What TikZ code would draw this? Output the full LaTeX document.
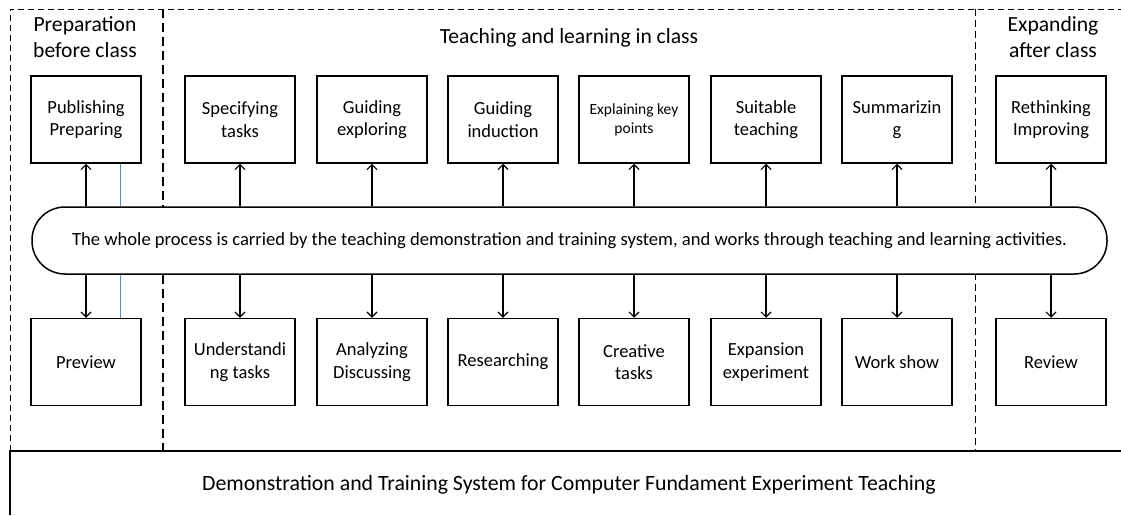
\documentclass[tikz,border=0pt]{standalone}
\usepackage{fontspec}
\setmainfont{Carlito}
\usetikzlibrary{arrows.meta}
\definecolor{linkblue}{RGB}{80,140,205}
\begin{document}
\begin{tikzpicture}[x=1pt,y=-1pt,
  box/.style={draw, line width=1.5pt, minimum width=110pt, minimum height=87pt,
    align=center, inner sep=2pt, font=\fontsize{18.5}{22.5}\selectfont},
  smallbox/.style={box, font=\fontsize{15.5}{19}\selectfont},
  pillbox/.style={draw, fill=white, line width=1.5pt, rounded corners=33pt, minimum width=1075pt,
    minimum height=67pt, inner sep=0pt, font=\fontsize{18.6}{22}\selectfont},
  head/.style={align=center, inner sep=0pt, font=\fontsize{21.6}{26}\selectfont},
  arr/.style={line width=1.2pt, -{Straight Barb[length=5pt,width=10pt,line width=1.1pt]}},
  linkline/.style={linkblue, line width=1pt},
  border/.style={line width=1pt, dash pattern=on 6pt off 4pt},
  zone/.style={line width=1pt, dash pattern=on 7pt off 4pt},
  mainzone/.style={line width=2pt, dash pattern=on 9pt off 5pt}]
\useasboundingbox (0,0) rectangle (1121,515);

% frame and zone separators
\draw[border] (10,451) -- (10,9) -- (1121,9);
\draw[mainzone] (163,9) -- (163,451);
\draw[zone] (975,9) -- (975,451);
\draw[line width=1.3pt] (10,515) -- (10,451) -- (1121,451);

% zone titles
\node[head] (h1) at (85,37) {Preparation\\before class};
\node[head] (h2) at (569,38) {Teaching and learning in class};
\node[head] (h3) at (1053,37) {Expanding\\after class};

% central carrier
\node[pillbox] (pill) at (569.5,240.5) {The whole process is carried by the teaching demonstration and training system, and works through teaching and learning activities.};

% upper activities
\node[box] (t1) at (86,119.5) {Publishing\\Preparing};
\node[box] (t2) at (240,119.5) {Specifying\\tasks};
\node[box] (t3) at (372,119.5) {Guiding\\exploring};
\node[box] (t4) at (503,119.5) {Guiding\\induction};
\node[smallbox] (t5) at (634,119.5) {Explaining key\\points};
\node[box] (t6) at (766,119.5) {Suitable\\teaching};
\node[box] (t7) at (897,119.5) {Summarizin\\g};
\node[box] (t8) at (1051,119.5) {Rethinking\\Improving};

% lower activities
\node[box] (b1) at (86,362) {Preview};
\node[box] (b2) at (240,362) {Understandi\\ng tasks};
\node[box] (b3) at (372,362) {Analyzing\\Discussing};
\node[box] (b4) at (503,362) {Researching};
\node[box] (b5) at (634,362) {Creative\\tasks};
\node[box] (b6) at (766,362) {Expansion\\experiment};
\node[box] (b7) at (897,362) {Work show};
\node[box] (b8) at (1051,362) {Review};

\foreach \n in {1,...,8}{
  \draw[arr] (pill.north -| t\n.south) -- (t\n.south);
  \draw[arr] (pill.south -| b\n.north) -- (b\n.north);
}

% links beside the preparation arrows
\draw[linkline] ([xshift=34pt]t1.south) -- ([xshift=34pt]t1.south |- pill.north);
\draw[linkline] ([xshift=34pt]b1.north) -- ([xshift=34pt]b1.north |- pill.south);

% base system
\node[font=\fontsize{21.8}{26}\selectfont, inner sep=0pt] (sys) at (569,485) {Demonstration and Training System for Computer Fundament Experiment Teaching};
\end{tikzpicture}
\end{document}
